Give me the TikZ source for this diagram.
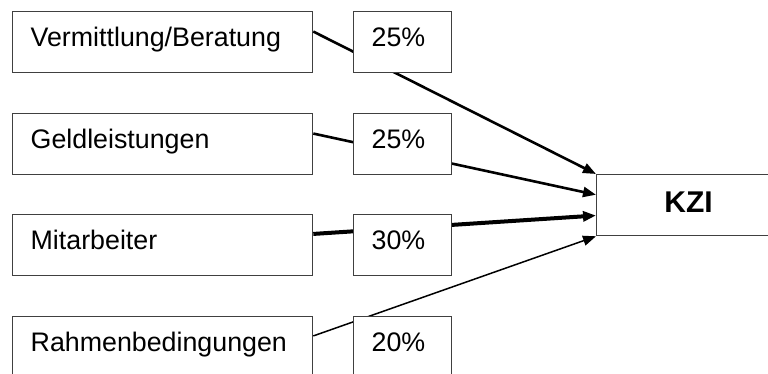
\documentclass[tikz,border=0pt]{standalone}
\usepackage{fontspec}
\setmainfont{Liberation Sans}
\usetikzlibrary{arrows.meta,calc}
\definecolor{boxgray}{HTML}{404040}
\begin{document}
\begin{tikzpicture}[x=1pt, y=1pt,
    factor/.style={draw=boxgray, line width=1.3pt, fill=white, anchor=north west,
      inner xsep=18pt, inner ysep=0pt, text width=264pt, align=left,
      text height=35pt, text depth=26pt, font=\fontsize{26.8}{30}\selectfont},
    share/.style={factor, text width=62pt},
    link/.style={line width=#1, -{Triangle[length=13pt, width=10pt]}}]
      \useasboundingbox (0,0) rectangle (768,374);
      \node[factor] (verm) at (12,363) {Vermittlung/Beratung};
      \node[factor] (geld) at (12,261) {Geldleistungen};
      \node[factor] (mitarb) at (12,160) {Mitarbeiter};
      \node[factor] (rahmen) at (12,58) {Rahmenbedingungen};
      \node[factor, text width=184pt, inner xsep=0pt, align=center, text height=38pt,
        text depth=23pt, font=\fontsize{30}{32}\selectfont\bfseries] (kzi) at (596,200) {KZI};
      \draw[link=2.6pt] ($(verm.north east)!0.33!(verm.south east)$) -- (kzi.north west);
      \draw[link=2.6pt] ($(geld.north east)!0.33!(geld.south east)$) -- ($(kzi.north west)!1/3!(kzi.south west)$);
      \draw[link=4pt] ($(mitarb.north east)!0.32!(mitarb.south east)$) -- ($(kzi.north west)!2/3!(kzi.south west)$);
      \draw[link=1.5pt] ($(rahmen.north east)!0.32!(rahmen.south east)$) -- (kzi.south west);
      \node[share] (p1) at (353,363) {25\%};
      \node[share] (p2) at (353,261) {25\%};
      \node[share] (p3) at (353,160) {30\%};
      \node[share] (p4) at (353,58) {20\%};
    \end{tikzpicture}
\end{document}
